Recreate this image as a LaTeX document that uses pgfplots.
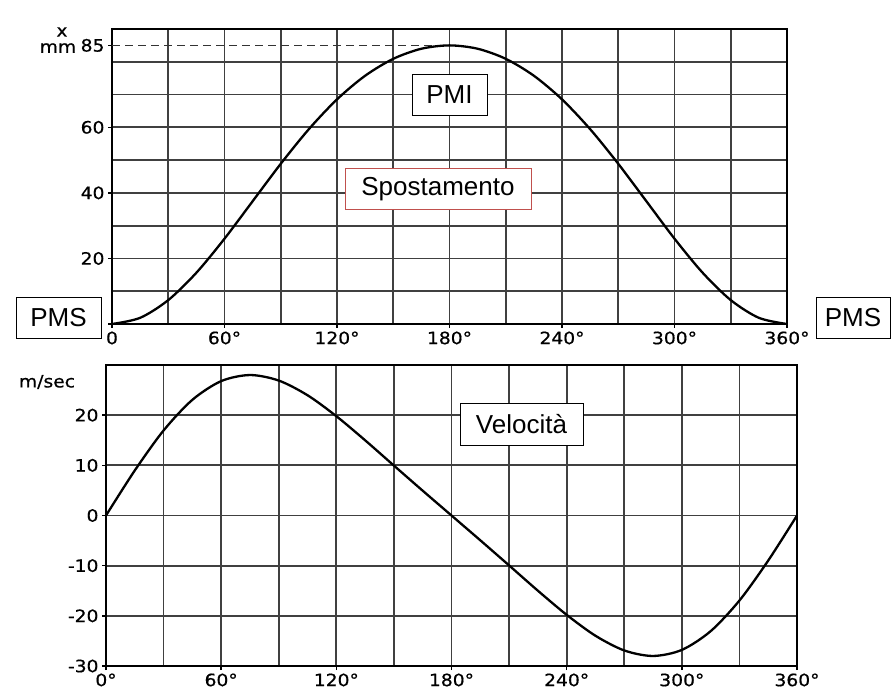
\documentclass[border=0pt]{standalone}
\usepackage{fontspec}
\setmainfont{Liberation Sans}
\newfontfamily\tickfont[FakeStretch=1.1, FakeBold=0.6]{DejaVu Sans}
\usepackage{pgfplots}
\pgfplotsset{compat=1.18}
\definecolor{boxred}{RGB}{192,80,77}
\pgfplotsset{
  chartstyle/.style={
    scale only axis,
    anchor=south west,
    axis line style={line width=1.8pt},
    grid=both,
    major grid style={line width=1.7pt, black!75},
    minor grid style={line width=1.7pt, black!75},
    tick style={line width=1.4pt, black},
    major tick length=4pt,
    minor tick length=0pt,
    tick align=outside,
    tick pos=left,
    ticklabel style={font=\tickfont\fontsize{17}{19}\selectfont},
    /pgf/number format/assume math mode=true,
    xmin=0, xmax=360,
    xtick={0,60,...,360},
    minor xtick={30,90,...,330},
  }
}
\begin{document}
\begin{tikzpicture}[x=1pt,y=1pt]
\useasboundingbox (0,0) rectangle (893,691);
% ---------- Displacement ----------
\begin{axis}[chartstyle,
  at={(112pt,367pt)}, width=675pt, height=295pt,
  ymin=0, ymax=90,
  xticklabels={0,60°,120°,180°,240°,300°,360°},
  ytick={0,20,40,60}, yticklabels={,20,40,60},
  minor ytick={10,30,50,70,80},
  extra y ticks={85}, extra y tick labels={85},
  extra tick style={grid=none},
]
\draw[line width=1.2pt, black!80, dash pattern=on 8pt off 5pt] (axis cs:0,85) -- (axis cs:172,85);
\addplot[black, line width=2.3pt, smooth] coordinates {
(0,0) (15,1.88) (30,7.29) (45,15.64) (60,26.03) (75,37.45) (90,48.88)
(105,59.45) (120,68.53) (135,75.74) (150,80.90) (165,83.98) (180,85)
(195,83.98) (210,80.90) (225,75.74) (240,68.53) (255,59.45) (270,48.88)
(285,37.45) (300,26.03) (315,15.64) (330,7.29) (345,1.88) (360,0)
};
\end{axis}
% ---------- Velocity ----------
\begin{axis}[chartstyle,
  at={(106pt,25pt)}, width=691pt, height=301pt,
  ymin=-30, ymax=30,
  xticklabels={0°,60°,120°,180°,240°,300°,360°},
  ytick={-30,-20,-10,0,10,20},
  yticklabels={-30,-20,-10,0,10,20},
]
\addplot[black, line width=2.3pt, smooth] coordinates {
(0,0) (15,8.98) (30,16.95) (45,23.06) (60,26.79) (75,28.0) (90,26.9)
(105,23.97) (120,19.80) (135,14.99) (150,9.95) (165,4.94) (180,0)
(195,-4.94) (210,-9.95) (225,-14.99) (240,-19.80) (255,-23.97) (270,-26.9)
(285,-28.0) (300,-26.79) (315,-23.06) (330,-16.95) (345,-8.98) (360,0)
};
\end{axis}
% ---------- Axis unit labels ----------
\node[font=\tickfont\fontsize{17}{19}\selectfont, inner sep=0pt] at (62,659) {x};
\node[font=\tickfont\fontsize{17}{19}\selectfont, inner sep=0pt] at (58,643) {mm};
\node[font=\tickfont\fontsize{17}{19}\selectfont, inner sep=0pt] at (47,309) {m/sec};
% ---------- Boxes ----------
\tikzset{lbl/.style={draw=black, line width=1pt, fill=white, font=\fontsize{26}{28}\selectfont, inner sep=0pt, minimum height=41pt}}
\node[lbl, minimum width=75pt] at (449.5,596) {PMI};
\node[lbl, draw=boxred, minimum width=186pt] at (438,502) {Spostamento};
\node[lbl, minimum width=123pt] at (521.5,266.5) {Velocità};
\node[lbl, minimum width=85pt] at (58.5,373) {PMS};
\node[lbl, minimum width=74pt] at (853,373) {PMS};
\end{tikzpicture}
\end{document}
